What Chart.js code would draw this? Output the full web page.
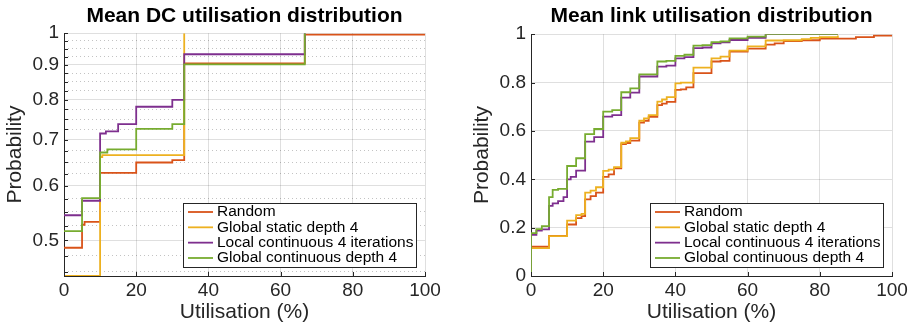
<!DOCTYPE html>
<html>
<head>
<meta charset="utf-8">
<script src="https://cdn.jsdelivr.net/npm/chart.js@4.4.0/dist/chart.umd.min.js"></script>
<style>
    html, body { margin: 0; padding: 0; background: #fff; }
    #wrap { position: relative; width: 917px; height: 328px; }
    canvas { position: absolute; top: 0; }
    #dcChart { left: 0; }
    #linkChart { left: 458px; }
</style>
</head>
<body>
<div id="wrap">
    <canvas id="dcChart" width="458" height="328"></canvas>
    <canvas id="linkChart" width="459" height="328"></canvas>
</div>
<script>
const seriesNames = ["Random", "Global static depth 4", "Local continuous 4 iterations", "Global continuous depth 4"];
const seriesColors = ["#D95319", "#EDB120", "#7E2F8E", "#77AC30"];

// Mean DC utilisation (log y axis)
const dcRandomX = [0, 5, 5.7, 10, 20, 30, 33.3, 66.7, 100];
const dcRandomY = [0.488, 0.527, 0.532, 0.627, 0.649, 0.654, 0.904, 0.995, 0.995];
const dcStaticX = [0, 10, 10.6, 33.3];
const dcStaticY = [0.444, 0.661, 0.665, 1];
const dcLocalX = [0, 5, 10, 11.6, 15, 20, 30, 33.3, 66.7];
const dcLocalY = [0.544, 0.571, 0.715, 0.720, 0.738, 0.782, 0.800, 0.932, 1];
const dcContX = [0, 5, 10, 12, 20, 30, 33.3, 66.7];
const dcContY = [0.516, 0.576, 0.671, 0.678, 0.726, 0.738, 0.901, 1];
const dcYTicks = [0.5, 0.6, 0.7, 0.8, 0.9, 1];
const dcYMinorTicks = [0.45, 0.475, 0.525, 0.55, 0.575, 0.625, 0.65, 0.675, 0.725, 0.75, 0.775, 0.825, 0.85, 0.875, 0.925, 0.95, 0.975];

// Mean link utilisation
const linkRandomX = [0, 0, 5, 10, 12.5, 14, 15, 16.5, 18, 20, 21.5, 23, 25, 26.3, 27.5, 30, 31.3, 32.6, 35, 36.3, 37.6, 40, 41.5, 43, 45, 50, 52.5, 55, 60, 65, 67.5, 70, 75, 80, 90, 95, 100];
const linkRandomY = [0, 0.121, 0.166, 0.213, 0.239, 0.248, 0.317, 0.33, 0.345, 0.41, 0.42, 0.445, 0.545, 0.55, 0.56, 0.634, 0.642, 0.658, 0.707, 0.713, 0.72, 0.77, 0.772, 0.78, 0.839, 0.887, 0.89, 0.928, 0.94, 0.957, 0.962, 0.971, 0.975, 0.982, 0.9875, 0.994, 0.994];
const linkStaticX = [0, 0, 5, 10, 12.5, 14, 15, 16.5, 18, 20, 21.5, 23, 25, 26.3, 27.5, 30, 31.3, 32.6, 35, 36.3, 37.6, 40, 41.5, 45, 50, 52.5, 55, 60, 65, 70, 75, 77.5, 80, 85];
const linkStaticY = [0, 0.115, 0.165, 0.229, 0.252, 0.257, 0.345, 0.353, 0.367, 0.435, 0.44, 0.45, 0.551, 0.557, 0.57, 0.642, 0.652, 0.665, 0.721, 0.73, 0.74, 0.797, 0.80, 0.862, 0.9, 0.907, 0.932, 0.95, 0.974, 0.975, 0.98, 0.985, 0.988, 0.995];
const linkLocalX = [0, 0, 1.5, 3, 5, 6, 7.5, 9, 10, 11, 12.5, 15, 17.5, 20, 22.5, 25, 27.5, 30, 35, 37.5, 40, 42.5, 45, 47.5, 50, 52.5, 55, 60, 65, 85];
const linkLocalY = [0, 0.17, 0.188, 0.193, 0.29, 0.30, 0.31, 0.326, 0.40, 0.41, 0.436, 0.556, 0.574, 0.659, 0.665, 0.738, 0.758, 0.825, 0.866, 0.87, 0.90, 0.905, 0.942, 0.945, 0.962, 0.966, 0.976, 0.985, 1, 1];
const linkContX = [0, 0, 1.5, 3, 5, 6, 7.5, 10, 12.5, 15, 17.5, 20, 22.5, 25, 27.5, 30, 35, 37.5, 40, 42.5, 45, 47.5, 50, 52.5, 55, 60, 65, 85];
const linkContY = [0, 0.177, 0.194, 0.206, 0.326, 0.356, 0.36, 0.455, 0.487, 0.587, 0.608, 0.68, 0.686, 0.76, 0.776, 0.834, 0.887, 0.89, 0.91, 0.915, 0.953, 0.955, 0.967, 0.97, 0.983, 0.99, 1, 1];
const linkYTicks = [0, 0.2, 0.4, 0.6, 0.8, 1];
const xTicks = [0, 20, 40, 60, 80, 100];

const FONT = '"Liberation Sans", Arial, Helvetica, sans-serif';
const AXIS_COLOR = "#262626";
const GRID_COLOR = "rgba(38,38,38,0.15)";

Chart.defaults.font.family = FONT;
Chart.defaults.color = AXIS_COLOR;

function fmtTick(v) {
    if (v === 0) return "0";
    if (v === 1) return "1";
    return Number(v).toFixed(1);
}

function toPoints(xs, ys) {
    return xs.map((x, i) => ({ x: x, y: ys[i] }));
}

// MATLAB style: ticks pointing into the plot
const innerTicks = {
    id: "innerTicks",
    afterDraw(chart) {
        const { ctx, chartArea: a, scales } = chart;
        ctx.save();
        ctx.strokeStyle = AXIS_COLOR;
        ctx.lineWidth = 1;
        ["y", "yMinor"].forEach(id => {
            const s = scales[id];
            if (!s) return;
            s.ticks.forEach(t => {
                const p = Math.round(s.getPixelForValue(t.value)) + 0.5;
                ctx.beginPath();
                ctx.moveTo(a.left, p);
                ctx.lineTo(a.left + 4, p);
                ctx.stroke();
            });
        });
        const sx = scales.x;
        sx.ticks.forEach(t => {
            const p = Math.round(sx.getPixelForValue(t.value)) + 0.5;
            ctx.beginPath();
            ctx.moveTo(p, a.bottom);
            ctx.lineTo(p, a.bottom - 4);
            ctx.stroke();
        });
        ctx.restore();
    }
};

// legend box in the lower right corner of the axes
const cornerLegend = {
    id: "cornerLegend",
    afterDraw(chart) {
        const { ctx, chartArea: a } = chart;
        const rowH = 15.33;
        ctx.save();
        ctx.font = "15.5px " + FONT;
        const textW = Math.max(...seriesNames.map(t => ctx.measureText(t).width));
        const w = Math.round(34 + textW + 3);
        const h = Math.round(18 + rowH * 3);
        const left = Math.round(a.right - 9 - w);
        const top = Math.round(a.bottom - 9 - h);
        ctx.fillStyle = "#fff";
        ctx.fillRect(left, top, w, h);
        ctx.strokeStyle = AXIS_COLOR;
        ctx.lineWidth = 1;
        ctx.strokeRect(left + 0.5, top + 0.5, w, h);
        ctx.textBaseline = "middle";
        seriesNames.forEach((name, i) => {
            const y = top + 9 + i * rowH;
            ctx.strokeStyle = seriesColors[i];
            ctx.lineWidth = 1.8;
            ctx.beginPath();
            ctx.moveTo(left + 5, y);
            ctx.lineTo(left + 30, y);
            ctx.stroke();
            ctx.fillStyle = "#000";
            ctx.fillText(name, left + 34, y);
        });
        ctx.restore();
    }
};

function renderChart(id, { title, series, yScale, yMinor, padLeft, padRight, titlePadBottom }) {
    const ctx = document.getElementById(id).getContext("2d");

    const datasets = series.map((pts, i) => ({
        label: seriesNames[i],
        data: pts,
        borderColor: seriesColors[i],
        backgroundColor: seriesColors[i],
        borderWidth: 1.8,
        pointRadius: 0,
        stepped: "before",   // hold the value until the next x, then rise
        fill: false,
        order: series.length - i
    }));

    const scales = {
        x: {
            type: "linear",
            min: 0,
            max: 100,
            afterBuildTicks: s => { s.ticks = xTicks.map(v => ({ value: v })); },
            afterFit: s => { s.height = 52; },
            ticks: { font: { size: 19 }, color: AXIS_COLOR, padding: 3, maxRotation: 0 },
            grid: { color: GRID_COLOR, drawTicks: false },
            border: { color: AXIS_COLOR, width: 1 },
            title: { display: true, text: "Utilisation (%)", font: { size: 21 }, color: AXIS_COLOR, padding: { top: 0, bottom: 3 } }
        },
        y: Object.assign({
            position: "left",
            afterFit: s => { s.width = 64; },
            ticks: { font: { size: 19 }, color: AXIS_COLOR, padding: 5, autoSkip: false, callback: v => fmtTick(v) },
            grid: { color: GRID_COLOR, drawTicks: false },
            border: { color: AXIS_COLOR, width: 1 },
            title: { display: true, text: "Probability", font: { size: 21 }, color: AXIS_COLOR, padding: { top: 3, bottom: 0 } }
        }, yScale)
    };

    if (yMinor) {
        scales.yMinor = Object.assign({
            position: "left",
            afterFit: s => { s.width = 0; },
            ticks: { display: false },
            grid: { color: "rgba(38,38,38,0.28)", drawTicks: false },
            border: { display: false, dash: [1, 3] }
        }, yMinor);
    }

    return new Chart(ctx, {
        type: "line",
        data: { datasets: datasets },
        options: {
            responsive: false,
            animation: false,
            devicePixelRatio: 1,
            layout: { padding: { left: padLeft, right: padRight, top: 0, bottom: 0 } },
            plugins: {
                legend: { display: false },
                tooltip: { enabled: false },
                title: {
                    display: true,
                    text: title,
                    fullSize: false,
                    color: "#000",
                    font: { size: 21, weight: "bold" },
                    padding: { top: 4, bottom: titlePadBottom }
                }
            },
            scales: scales
        },
        plugins: [innerTicks, cornerLegend]
    });
}

renderChart("dcChart", {
    title: "Mean DC utilisation distribution",
    series: [
        toPoints(dcRandomX, dcRandomY),
        toPoints(dcStaticX, dcStaticY),
        toPoints(dcLocalX, dcLocalY),
        toPoints(dcContX, dcContY)
    ],
    yScale: {
        type: "logarithmic",
        min: 0.444,
        max: 1,
        afterBuildTicks: s => { s.ticks = dcYTicks.map(v => ({ value: v })); }
    },
    yMinor: {
        type: "logarithmic",
        min: 0.444,
        max: 1,
        afterBuildTicks: s => { s.ticks = dcYMinorTicks.map(v => ({ value: v })); }
    },
    padLeft: 0,
    padRight: 33,
    titlePadBottom: 4
});

renderChart("linkChart", {
    title: "Mean link utilisation distribution",
    series: [
        toPoints(linkRandomX, linkRandomY),
        toPoints(linkStaticX, linkStaticY),
        toPoints(linkLocalX, linkLocalY),
        toPoints(linkContX, linkContY)
    ],
    yScale: {
        type: "linear",
        min: 0,
        max: 1,
        afterBuildTicks: s => { s.ticks = linkYTicks.map(v => ({ value: v })); }
    },
    yMinor: null,
    padLeft: 9,
    padRight: 25,
    titlePadBottom: 5
});
</script>
</body>
</html>
